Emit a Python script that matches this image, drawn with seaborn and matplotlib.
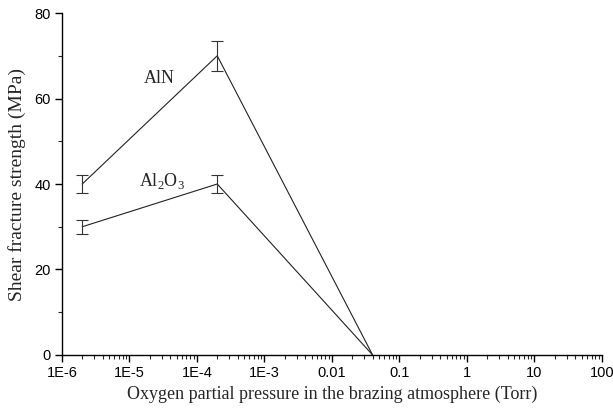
import numpy as np
import pandas as pd
import matplotlib
matplotlib.use("Agg")
import matplotlib.pyplot as plt
import seaborn as sns
from matplotlib.ticker import FixedLocator, LogLocator, NullFormatter, MultipleLocator

pressure = [2e-6, 2e-4, 0.04]
aln_strength = [40, 70, 0]
aln_err = [2.0, 3.5]
al2o3_strength = [30, 40, 0]
al2o3_err = [1.6, 2.0]
xtick_vals = [1e-6, 1e-5, 1e-4, 1e-3, 1e-2, 1e-1, 1, 10, 100]
xtick_labels = ["1E-6", "1E-5", "1E-4", "1E-3", "0.01", "0.1", "1", "10", "100"]
ytick_vals = [0, 20, 40, 60, 80]

sns.set_style("ticks")
plt.rcParams['font.family'] = ['Liberation Sans', 'DejaVu Sans']
plt.rcParams['mathtext.fontset'] = 'custom'
plt.rcParams['mathtext.rm'] = 'Liberation Serif'

df = pd.DataFrame({
    "pressure": pressure * 2,
    "strength": aln_strength + al2o3_strength,
    "material": ["AlN"] * 3 + ["Al2O3"] * 3,
})

fig = plt.figure(figsize=(6.13, 4.08), dpi=100)
ax = fig.add_axes([0.101, 0.130, 0.881, 0.838])

sns.lineplot(data=df, x="pressure", y="strength", units="material", estimator=None,
             color="#222222", lw=0.8, ax=ax, legend=False)
ax.errorbar(pressure[:2], aln_strength[:2], yerr=aln_err, fmt="none",
            ecolor="#333333", elinewidth=0.8, capsize=4.3, capthick=0.8)
ax.errorbar(pressure[:2], al2o3_strength[:2], yerr=al2o3_err, fmt="none",
            ecolor="#333333", elinewidth=0.8, capsize=4.3, capthick=0.8)

ax.set_xscale("log")
ax.set_xlim(1e-6, 100)
ax.set_ylim(0, 80)
ax.xaxis.set_major_locator(FixedLocator(xtick_vals))
ax.set_xticklabels(xtick_labels)
ax.xaxis.set_minor_locator(LogLocator(base=10, subs=np.arange(2, 10), numticks=20))
ax.xaxis.set_minor_formatter(NullFormatter())
ax.set_yticks(ytick_vals)
ax.yaxis.set_minor_locator(MultipleLocator(10))

for s in ["top", "right"]:
    ax.spines[s].set_visible(False)
for s in ["left", "bottom"]:
    ax.spines[s].set_linewidth(1.0)
    ax.spines[s].set_color("black")
ax.tick_params(which="major", direction="out", length=5, width=1.0, labelsize=10.5,
               colors="black", pad=3)
ax.tick_params(which="minor", direction="out", length=3, width=0.8)

serif = ['Liberation Serif', 'DejaVu Serif']
ax.set_xlabel("Oxygen partial pressure in the brazing atmosphere (Torr)", family=serif,
              fontsize=13, labelpad=4)
ax.set_ylabel("Shear fracture strength (MPa)", family=serif, fontsize=14, labelpad=6)

ax.text(2.8e-5, 64.8, "AlN", family=serif, fontsize=13, ha="center", va="center")
ax.text(3.0e-5, 40.7, r"Al$_2$O$_3$", family=serif, fontsize=13, ha="center", va="center")

fig.savefig("out.png", dpi=100)
